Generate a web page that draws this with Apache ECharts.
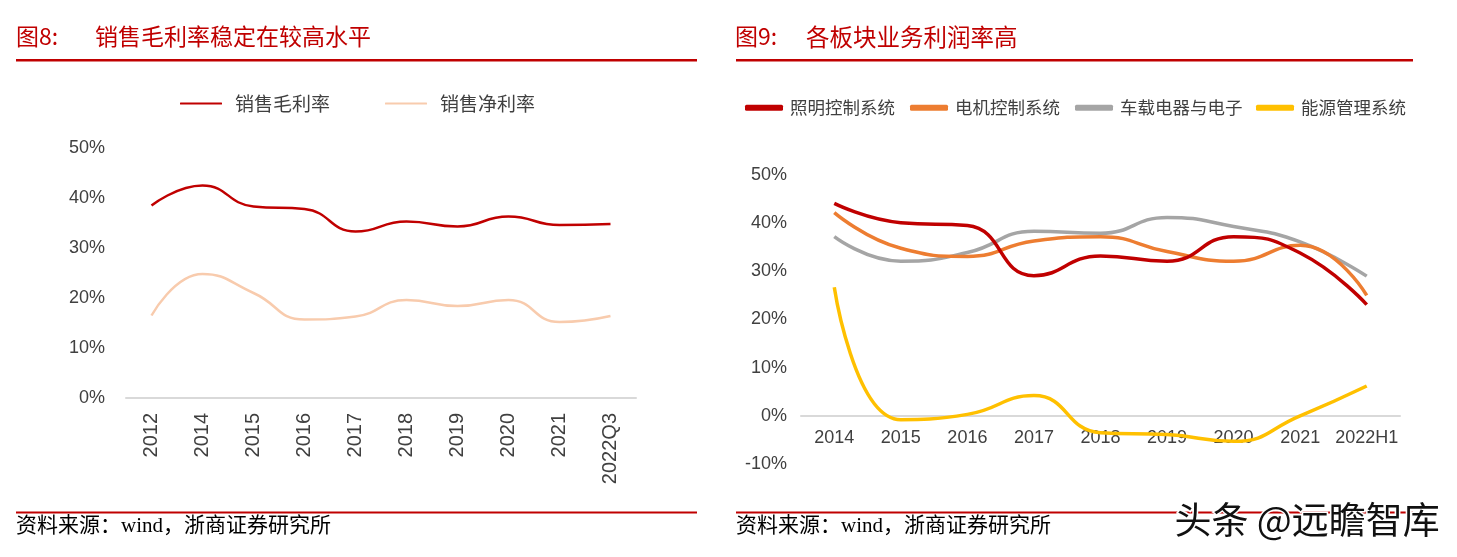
<!DOCTYPE html>
<html><head><meta charset="utf-8">
<script src="https://cdn.jsdelivr.net/npm/echarts@6/dist/echarts.min.js"></script>
<style>html,body{margin:0;padding:0;background:#fff}#c{width:1457px;height:557px}</style>
</head><body><div id="c"></div>
<script>
// Left chart (图8)
const leftCategories = ['2012','2014','2015','2016','2017','2018','2019','2020','2021','2022Q3'];
const grossMargin = [38.5, 42.5, 38.3, 37.8, 33.3, 35.3, 34.3, 36.3, 34.6, 34.8];
const netMargin   = [16.5, 24.8, 21.0, 15.7, 16.3, 19.6, 18.4, 19.6, 15.2, 16.4];
const leftTicks = [0, 10, 20, 30, 40, 50];

// Right chart (图9)
const rightCategories = ['2014','2015','2016','2017','2018','2019','2020','2021','2022H1'];
const lighting   = [44.1, 40.1, 39.5, 29.1, 33.2, 32.1, 37.2, 33.8, 23.1];
const motor      = [42.2, 34.8, 33.1, 36.3, 37.2, 34.1, 32.1, 35.4, 25.0];
const vehicleEl  = [37.2, 32.1, 33.9, 38.3, 37.9, 41.2, 39.3, 36.1, 29.0];
const energy     = [26.7, -0.8, 0.3, 4.2, -3.5, -3.9, -5.3, 0.0, 6.2];
const rightTicks = [-10, 0, 10, 20, 30, 40, 50];

const leftNames = ['销售毛利率', '销售净利率'];
const rightNames = ['照明控制系统', '电机控制系统', '车载电器与电子', '能源管理系统'];
const leftColors = ['#C00000', '#F8CBAD'];
const rightColors = ['#C00000', '#ED7D31', '#A5A5A5', '#FFC000'];

const chart = echarts.init(document.getElementById('c'), null, {renderer: 'canvas'});
const cjk = '"Noto Sans CJK SC", sans-serif';
const latin = '"Liberation Sans", Arial, sans-serif';

function legendItem(name, left, top, color, w, h, fs, gap) {
  return {
    data: [name], left: left, top: top, padding: 0, icon: 'roundRect', itemWidth: w, itemHeight: h,
    itemStyle: {color: color}, lineStyle: {color: color},
    textStyle: {fontFamily: cjk, fontSize: fs, color: '#404040', padding: [0,0,0,gap]}
  };
}

const option = {
  animation: false,
  backgroundColor: '#fff',
  grid: [
    {left: 126, right: 1457 - 636, top: 148, bottom: 557 - 398},
    {left: 801, right: 1457 - 1400, top: 175, bottom: 557 - 464},
    {left: 801, right: 1457 - 1400, top: 175, bottom: 557 - 416}
  ],
  legend: [
    legendItem(leftNames[0], 180, 94, leftColors[0], 42, 2, 19, 8),
    legendItem(leftNames[1], 385, 94, leftColors[1], 42, 2, 19, 8),
    legendItem(rightNames[0], 745, 99, rightColors[0], 38, 6, 17.5, 2),
    legendItem(rightNames[1], 910, 99, rightColors[1], 38, 6, 17.5, 2),
    legendItem(rightNames[2], 1075, 99, rightColors[2], 38, 6, 17.5, 2),
    legendItem(rightNames[3], 1256, 99, rightColors[3], 38, 6, 17.5, 2)
  ],
  xAxis: [
    {type: 'category', gridIndex: 0, data: leftCategories, boundaryGap: true,
     axisLine: {lineStyle: {color: '#D9D9D9', width: 2}}, axisTick: {show: false},
     axisLabel: {rotate: 90, margin: 15, fontFamily: latin, fontSize: 20, color: '#404040', interval: 0}},
    {type: 'category', gridIndex: 1, data: rightCategories, boundaryGap: true,
     axisLine: {onZero: true, lineStyle: {color: '#D9D9D9', width: 2}}, axisTick: {show: false},
     axisLabel: {show: false}},
    {type: 'category', gridIndex: 2, data: rightCategories, boundaryGap: true,
     axisLine: {show: false}, axisTick: {show: false},
     axisLabel: {margin: 13, fontFamily: latin, fontSize: 18, color: '#404040', interval: 0}}
  ],
  yAxis: [
    {type: 'value', gridIndex: 0, min: leftTicks[0], max: leftTicks[leftTicks.length-1], interval: 10,
     axisLine: {show: false}, axisTick: {show: false}, splitLine: {show: false},
     axisLabel: {margin: 21, fontFamily: latin, fontSize: 18, color: '#404040', formatter: v => v + '%'}},
    {type: 'value', gridIndex: 1, min: rightTicks[0], max: rightTicks[rightTicks.length-1], interval: 10,
     axisLine: {show: false}, axisTick: {show: false}, splitLine: {show: false},
     axisLabel: {margin: 14, fontFamily: latin, fontSize: 18, color: '#404040', formatter: v => v + '%'}},
    {type: 'value', gridIndex: 2, min: 0, max: 50, interval: 10, show: false}
  ],
  series: [
    {name: leftNames[0], type: 'line', xAxisIndex: 0, yAxisIndex: 0, data: grossMargin, smooth: 0.5,
     symbol: 'none', lineStyle: {color: leftColors[0], width: 2.5}, itemStyle: {color: leftColors[0]}},
    {name: leftNames[1], type: 'line', xAxisIndex: 0, yAxisIndex: 0, data: netMargin, smooth: 0.5,
     symbol: 'none', lineStyle: {color: leftColors[1], width: 2.5}, itemStyle: {color: leftColors[1]}},
    {name: rightNames[0], type: 'line', xAxisIndex: 1, yAxisIndex: 1, data: lighting, smooth: 0.5,
     symbol: 'none', z: 5, lineStyle: {color: rightColors[0], width: 3.5}, itemStyle: {color: rightColors[0]}},
    {name: rightNames[1], type: 'line', xAxisIndex: 1, yAxisIndex: 1, data: motor, smooth: 0.5,
     symbol: 'none', z: 4, lineStyle: {color: rightColors[1], width: 3.5}, itemStyle: {color: rightColors[1]}},
    {name: rightNames[2], type: 'line', xAxisIndex: 1, yAxisIndex: 1, data: vehicleEl, smooth: 0.5,
     symbol: 'none', z: 3, lineStyle: {color: rightColors[2], width: 3.5}, itemStyle: {color: rightColors[2]}},
    {name: rightNames[3], type: 'line', xAxisIndex: 1, yAxisIndex: 1, data: energy, smooth: 0.5,
     symbol: 'none', z: 6, lineStyle: {color: rightColors[3], width: 3.5}, itemStyle: {color: rightColors[3]}}
  ],
  graphic: [
    {type: 'text', left: 16, top: 25, style: {text: '图8:', fontFamily: cjk, fontSize: 23, fill: '#C00000'}},
    {type: 'text', left: 95, top: 25, style: {text: '销售毛利率稳定在较高水平', fontFamily: cjk, fontSize: 23, fill: '#C00000'}},
    {type: 'text', left: 735, top: 25, style: {text: '图9:', fontFamily: cjk, fontSize: 23, fill: '#C00000'}},
    {type: 'text', left: 806, top: 25, style: {text: '各板块业务利润率高', fontFamily: cjk, fontSize: 23.5, fill: '#C00000'}},
    {type: 'rect', shape: {x: 16, y: 59, width: 681, height: 2.5}, style: {fill: '#C00000'}},
    {type: 'rect', shape: {x: 736, y: 59, width: 677, height: 2.5}, style: {fill: '#C00000'}},
    {type: 'rect', shape: {x: 16, y: 511.5, width: 681, height: 2}, style: {fill: '#C00000'}},
    {type: 'rect', shape: {x: 736, y: 511.5, width: 677, height: 2}, style: {fill: '#C00000'}},
    {type: 'text', left: 16, top: 516, style: {text: '资料来源：wind，浙商证券研究所', fontFamily: '"Liberation Serif", ' + cjk, fontSize: 21, fill: '#000'}},
    {type: 'text', left: 736, top: 516, style: {text: '资料来源：wind，浙商证券研究所', fontFamily: '"Liberation Serif", ' + cjk, fontSize: 21, fill: '#000'}},
    {type: 'text', left: 1173, top: 500, z: 100, style: {text: '头条 @远瞻智库', fontFamily: cjk, fontSize: 37, fill: '#111', stroke: '#fff', lineWidth: 3}}
  ]
};
chart.setOption(option);
</script></body></html>
